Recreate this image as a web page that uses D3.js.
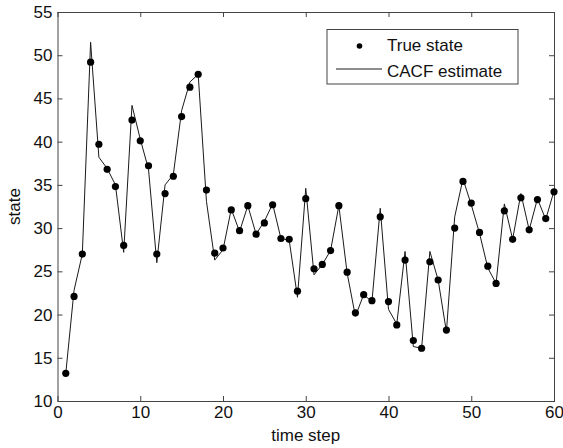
<!DOCTYPE html>
<html>
<head>
<meta charset="utf-8">
<script src="https://cdn.jsdelivr.net/npm/d3@7"></script>
<style>
  body { margin: 0; background: #fff; }
  svg { display: block; }
</style>
</head>
<body>
<div id="chart"></div>
<script>
// time steps 1..60
var timeSteps = d3.range(1, 61)

// true state (dots)
var trueState = [
  13.2, 22.1, 27.0, 49.2, 39.7, 36.8, 34.8, 28.0, 42.5, 40.1,
  37.2, 27.0, 34.0, 36.0, 42.9, 46.3, 47.8, 34.4, 27.1, 27.7,
  32.1, 29.7, 32.6, 29.3, 30.6, 32.7, 28.8, 28.7, 22.7, 33.4,
  25.3, 25.8, 27.4, 32.6, 24.9, 20.2, 22.3, 21.6, 31.3, 21.5,
  18.8, 26.3, 17.0, 16.1, 26.1, 24.0, 18.2, 30.0, 35.4, 32.9,
  29.5, 25.6, 23.6, 32.0, 28.7, 33.5, 29.8, 33.3, 31.1, 34.2
]

// CACF estimate (line)
var cacfEstimate = [
  13.2, 22.8, 27.0, 51.5, 38.2, 36.9, 35.0, 27.2, 44.2, 40.3,
  36.8, 26.0, 35.0, 36.2, 43.6, 46.9, 47.8, 33.1, 26.3, 27.5,
  32.2, 29.6, 32.6, 29.3, 30.8, 32.8, 28.8, 28.6, 22.0, 34.6,
  24.6, 25.8, 27.4, 32.6, 24.8, 19.8, 22.3, 21.5, 32.3, 20.6,
  18.9, 27.3, 16.3, 16.1, 27.3, 24.0, 18.0, 31.3, 35.7, 32.7,
  29.4, 25.4, 23.6, 32.8, 28.7, 34.0, 29.8, 33.4, 31.0, 34.3
]

var xTicks = [0, 10, 20, 30, 40, 50, 60]
var yTicks = [10, 15, 20, 25, 30, 35, 40, 45, 50, 55]

var legendItems = ['True state', 'CACF estimate']

var W = 563, H = 448
var margin = {top: 12, right: 9, bottom: 47, left: 57.5}
var width = W - margin.left - margin.right,
    height = H - margin.top - margin.bottom

var font = 'Arial, "Liberation Sans", sans-serif'
var axisColor = '#444'

var svg = d3.select('#chart').append('svg')
    .attr('width', W)
    .attr('height', H)
    .style('background', '#fff')

var g = svg.append('g')
    .attr('transform', 'translate(' + margin.left + ',' + margin.top + ')')

var x = d3.scaleLinear().domain([0, 60]).range([0, width])
var y = d3.scaleLinear().domain([10, 55]).range([height, 0])

// axes, MATLAB style: ticks inside on all four sides
function styleAxis(sel, showText) {
  sel.select('.domain').remove()
  sel.selectAll('line').attr('stroke', axisColor)
  sel.selectAll('text')
    .attr('font-family', font)
    .attr('font-size', '17px')
    .attr('fill', '#111')
  if (!showText) sel.selectAll('text').remove()
}

g.append('g')
    .attr('transform', 'translate(0,' + height + ')')
    .call(d3.axisBottom(x).tickValues(xTicks).tickFormat(d3.format('d')).tickSizeInner(-5).tickSizeOuter(0).tickPadding(5))
    .call(styleAxis, true)

g.append('g')
    .call(d3.axisTop(x).tickValues(xTicks).tickSizeInner(-5).tickSizeOuter(0))
    .call(styleAxis, false)

g.append('g')
    .call(d3.axisLeft(y).tickValues(yTicks).tickFormat(d3.format('d')).tickSizeInner(-5).tickSizeOuter(0).tickPadding(5))
    .call(styleAxis, true)

g.append('g')
    .attr('transform', 'translate(' + width + ',0)')
    .call(d3.axisRight(y).tickValues(yTicks).tickSizeInner(-5).tickSizeOuter(0))
    .call(styleAxis, false)

// box
g.append('rect')
    .attr('x', 0.5)
    .attr('y', 0.5)
    .attr('width', width)
    .attr('height', height)
    .attr('fill', 'none')
    .attr('stroke', axisColor)
    .attr('stroke-width', 1)

// estimate line
var line = d3.line()
    .x(function(d, i) { return x(timeSteps[i]) })
    .y(function(d) { return y(d) })

g.append('path')
    .datum(cacfEstimate)
    .attr('d', line)
    .attr('fill', 'none')
    .attr('stroke', '#1a1a1a')
    .attr('stroke-width', 1)

// true state dots
g.selectAll('.dot')
    .data(trueState)
  .enter().append('circle')
    .attr('class', 'dot')
    .attr('cx', function(d, i) { return x(timeSteps[i]) })
    .attr('cy', function(d) { return y(d) })
    .attr('r', 3.6)
    .attr('fill', '#000')

// axis labels
svg.append('text')
    .attr('x', margin.left + width / 2)
    .attr('y', 441)
    .attr('text-anchor', 'middle')
    .attr('font-family', font)
    .attr('font-size', '17px')
    .attr('fill', '#111')
    .text('time step')

svg.append('text')
    .attr('transform', 'translate(20,' + (margin.top + height / 2) + ') rotate(-90)')
    .attr('text-anchor', 'middle')
    .attr('font-family', font)
    .attr('font-size', '17px')
    .attr('fill', '#111')
    .text('state')

// legend
var legend = svg.append('g').attr('transform', 'translate(327,29.5)')

legend.append('rect')
    .attr('width', 191)
    .attr('height', 54.5)
    .attr('fill', '#fff')
    .attr('stroke', axisColor)
    .attr('stroke-width', 1)

legend.append('circle')
    .attr('cx', 32.5)
    .attr('cy', 16.5)
    .attr('r', 2.8)
    .attr('fill', '#000')

legend.append('line')
    .attr('x1', 9)
    .attr('x2', 55)
    .attr('y1', 39.5)
    .attr('y2', 39.5)
    .attr('stroke', '#1a1a1a')
    .attr('stroke-width', 1)

legend.selectAll('.leg-text')
    .data(legendItems)
  .enter().append('text')
    .attr('class', 'leg-text')
    .attr('x', 60)
    .attr('y', function(d, i) { return 21.5 + i * 26 })
    .attr('font-family', font)
    .attr('font-size', '17px')
    .attr('fill', '#111')
    .text(function(d) { return d })
</script>
</body>
</html>
